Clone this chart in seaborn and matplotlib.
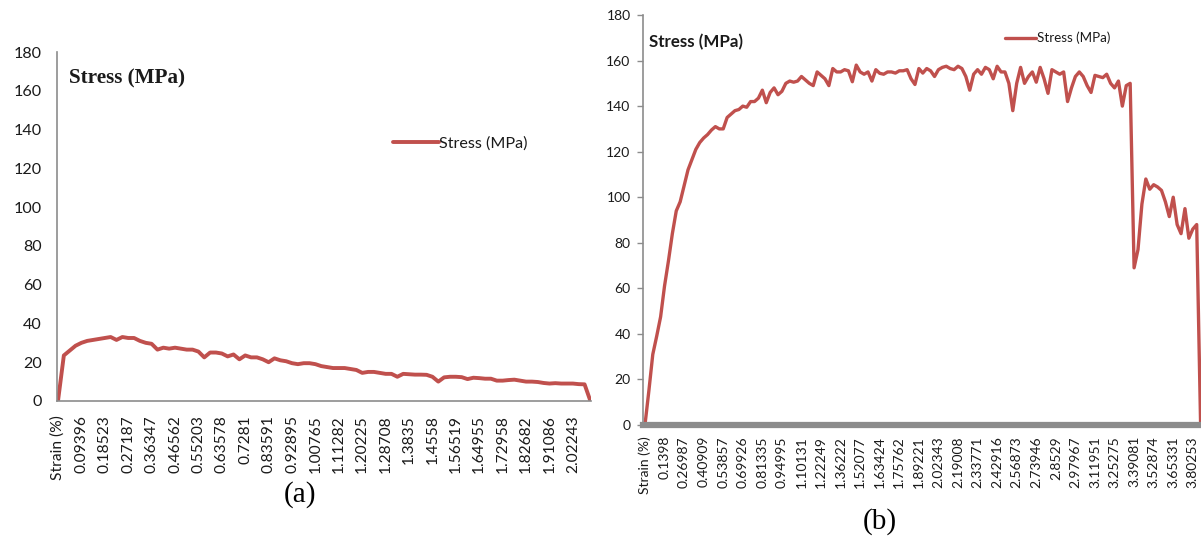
import matplotlib
matplotlib.use("Agg")
import matplotlib.pyplot as plt
import seaborn as sns
import pandas as pd

# ---- specimen (a): stress readings, four readings per labelled strain step ----
stress_a = [
    0, 23.5, 26, 28.5, 30, 31, 31.5, 32, 32.5, 33,
    31.5, 33, 32.5, 32.5, 31, 30, 29.5, 26.5, 27.5, 27,
    27.5, 27, 26.5, 26.5, 25.5, 22.5, 25, 25, 24.5, 23,
    24, 21.5, 23.5, 22.5, 22.5, 21.5, 20, 22, 21, 20.5,
    19.5, 19, 19.5, 19.5, 19, 18, 17.5, 17, 17, 17,
    16.5, 16, 14.5, 15, 15, 14.5, 14, 14, 12.5, 14,
    13.8, 13.6, 13.6, 13.5, 12.5, 10, 12.2, 12.5, 12.5, 12.3,
    11.3, 12, 11.8, 11.5, 11.5, 10.5, 10.5, 10.8, 11, 10.5,
    10, 10, 9.8, 9.3, 9, 9.2, 9, 9, 9, 8.7,
    8.6, 0,
]
labels_a = [
    "Strain (%)", "0.09396", "0.18523", "0.27187", "0.36347", "0.46562",
    "0.55203", "0.63578", "0.7281", "0.83591", "0.92895", "1.00765",
    "1.11282", "1.20225", "1.28708", "1.3835", "1.4558", "1.56519",
    "1.64955", "1.72958", "1.82682", "1.91086", "2.02243",
]
step_a = 4

# ---- specimen (b): stress readings, five readings per labelled strain step ----
stress_b = [
    0, 15, 31, 39, 47.5, 61, 72, 84, 94, 98,
    105, 112, 116.5, 121, 124, 126, 127.5, 129.5, 131, 130,
    130, 135, 136.5, 138, 138.5, 140, 139.5, 142, 142, 143.5,
    147, 141.5, 146, 148, 145, 146.5, 150, 151, 150.5, 151,
    153, 151.5, 150, 149, 155, 153.5, 152, 149, 156.5, 155,
    155, 156, 155.5, 150.7, 158, 155, 154, 155, 151, 156,
    154.4, 154, 155, 155, 154.5, 155.5, 155.5, 156, 152, 149.5,
    156.5, 154.5, 156.5, 155.5, 153, 156, 157, 157.5, 156.5, 156,
    157.5, 156.5, 153, 147, 154, 156, 154, 157, 156, 152,
    157.5, 155, 155, 150, 138, 150, 157, 150, 153, 155,
    150.5, 157, 152, 145.6, 156, 155, 154, 155, 142, 148,
    153, 155, 153, 149, 146, 153.5, 153, 152.5, 154, 150,
    148, 151, 140, 149, 150, 69, 77, 97, 108, 103.5,
    105.5, 104.5, 103, 98, 91.5, 100, 88, 84, 95, 82,
    86, 88, 0,
]
labels_b = [
    "Strain (%)", "0.1398", "0.26987", "0.40909", "0.53857", "0.69926",
    "0.81335", "0.94995", "1.10131", "1.22249", "1.36222", "1.52077",
    "1.63424", "1.75762", "1.89221", "2.02343", "2.19008", "2.33771",
    "2.42916", "2.56873", "2.73946", "2.8529", "2.97967", "3.11951",
    "3.25275", "3.39081", "3.52874", "3.65331", "3.80253",
]
step_b = 5

series_name = "Stress (MPa)"
line_color = "#c0504d"
axis_gray = "#8c8c8c"
text_color = "#1a1a1a"

sns.set_style("white")
plt.rcParams["font.family"] = ["Lato", "DejaVu Sans"]

fig = plt.figure(figsize=(12.01, 5.41), dpi=100)

df_a = pd.DataFrame({"point": range(len(stress_a)), "stress": stress_a})
df_b = pd.DataFrame({"point": range(len(stress_b)), "stress": stress_b})

# ---------------- panel (a) ----------------
ax_a = fig.add_axes([57 / 1201, 1 - 401 / 541, 534 / 1201, 349 / 541])
sns.lineplot(data=df_a, x="point", y="stress", ax=ax_a, color=line_color,
             linewidth=2.8, label=series_name)
ax_a.set_xlim(-0.17, 91.1)
ax_a.set_ylim(0, 180)
ax_a.set_yticks(range(0, 181, 20))
ax_a.set_xticks(range(0, step_a * len(labels_a), step_a))
ax_a.set_xticklabels(labels_a, rotation=90)
ax_a.tick_params(axis="y", length=0, pad=11, labelsize=11.6, labelcolor=text_color)
ax_a.tick_params(axis="x", length=0, pad=10, labelsize=11.2, labelcolor=text_color)
for side in ("top", "right"):
    ax_a.spines[side].set_visible(False)
for side in ("left", "bottom"):
    ax_a.spines[side].set_color(axis_gray)
    ax_a.spines[side].set_linewidth(1.2)
ax_a.set_xlabel("")
ax_a.set_ylabel("")
ax_a.text(0.022, 0.925, series_name, transform=ax_a.transAxes,
          fontsize=15.2, fontweight="bold", family="Liberation Serif",
          ha="left", va="center", color=text_color)
ax_a.legend(loc="center left", bbox_to_anchor=(0.63, 0.737), frameon=False,
            fontsize=11.6, handlelength=2.8, handletextpad=0.05,
            borderpad=0, borderaxespad=0, labelcolor=text_color)

# ---------------- panel (b) ----------------
ax_b = fig.add_axes([643 / 1201, 1 - 425 / 541, 558 / 1201, 410 / 541])
sns.lineplot(data=df_b, x="point", y="stress", ax=ax_b, color=line_color,
             linewidth=2.4, label=series_name)
ax_b.set_xlim(-0.5, 142.1)
ax_b.set_ylim(0, 180)
ax_b.set_yticks(range(0, 181, 20))
ax_b.set_xticks(range(0, step_b * len(labels_b), step_b))
ax_b.set_xticklabels(labels_b, rotation=90)
ax_b.tick_params(axis="y", length=4, width=1, color=axis_gray, pad=5,
                 labelsize=10, labelcolor=text_color, left=True)
ax_b.tick_params(axis="x", length=0, pad=8, labelsize=10, labelcolor=text_color)
for side in ("top", "right"):
    ax_b.spines[side].set_visible(False)
ax_b.spines["left"].set_color(axis_gray)
ax_b.spines["left"].set_linewidth(1.2)
ax_b.spines["bottom"].set_color(axis_gray)
ax_b.spines["bottom"].set_linewidth(4.5)
ax_b.set_xlabel("")
ax_b.set_ylabel("")
ax_b.text(0.011, 0.935, series_name, transform=ax_b.transAxes,
          fontsize=12.2, fontweight="bold", ha="left", va="center",
          color=text_color)
ax_b.legend(loc="center left", bbox_to_anchor=(0.649, 0.944), frameon=False,
            fontsize=9.6, handlelength=2.3, handletextpad=0.1,
            borderpad=0, borderaxespad=0, labelcolor=text_color)

# panel captions
fig.text(300 / 1201, 1 - 495 / 541, "(a)", family="Liberation Serif",
         fontsize=21, ha="center", va="center", color="black")
fig.text(880 / 1201, 1 - 522 / 541, "(b)", family="Liberation Serif",
         fontsize=21, ha="center", va="center", color="black")

fig.savefig("out.png", dpi=100, facecolor="white")
